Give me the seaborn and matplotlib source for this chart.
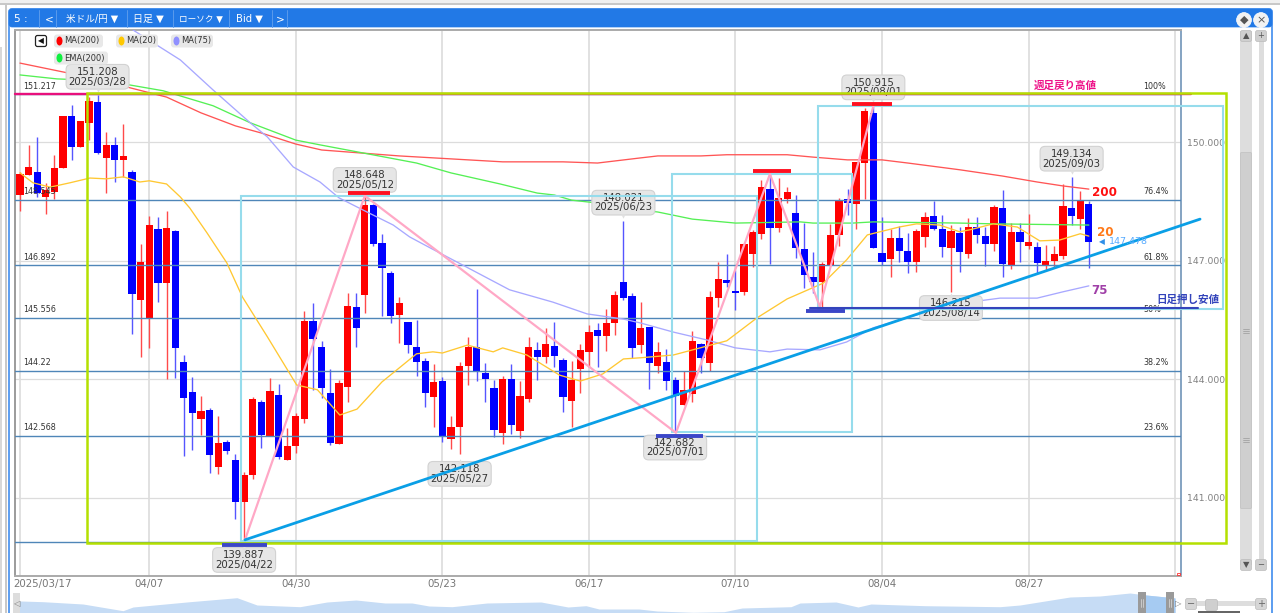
import numpy as np
import pandas as pd
import matplotlib
matplotlib.use('Agg')
import matplotlib.pyplot as plt
import matplotlib.transforms as mtrans
from matplotlib.patches import Rectangle, FancyBboxPatch, Circle, Ellipse
import seaborn as sns

# daily candles, USD/JPY 2025/03/17 onwards
opens = [148.67,149.18,149.25,148.62,148.75,149.36,150.67,149.89,150.50,151.03,
         149.61,149.94,149.56,149.25,146.01,145.53,147.81,146.44,147.76,144.44,
         143.68,143.00,143.23,141.79,142.42,141.96,140.90,141.58,143.43,142.57,
         143.61,141.96,142.32,143.00,145.48,144.82,143.66,142.37,143.81,145.84,
         146.14,148.42,147.46,146.70,145.63,145.46,144.82,144.47,143.56,143.96,
         142.50,142.80,144.34,144.82,144.17,143.79,142.65,144.01,142.70,143.51,
         144.75,144.57,144.85,144.49,143.46,144.27,144.70,145.25,145.10,145.43,
         146.47,146.12,144.87,145.33,144.34,144.44,143.99,143.36,143.63,144.90,
         144.42,146.06,146.52,146.24,146.22,147.18,147.69,148.82,147.84,148.57,
         148.22,147.31,146.60,146.47,146.90,147.66,148.57,148.44,149.48,150.75,
         147.20,147.05,147.58,147.25,146.98,147.61,148.14,147.81,147.33,147.71,
         147.18,147.86,147.63,147.43,148.34,146.87,147.74,147.38,147.36,146.90,
         147.00,147.13,148.34,148.06,148.44]
highs = [149.25,149.94,150.14,148.98,149.69,150.67,150.95,150.55,151.15,151.21,
         150.27,150.14,150.47,149.31,147.43,148.14,148.11,148.27,147.79,144.62,
         144.06,143.58,143.28,143.08,142.47,142.11,141.66,143.56,143.48,144.04,
         143.89,142.77,143.15,145.74,145.94,144.98,144.27,143.99,146.19,146.19,
         148.65,148.44,147.69,146.75,146.09,145.46,145.51,144.55,144.39,144.06,
         143.08,144.44,145.08,146.29,144.42,143.99,144.09,144.39,143.96,145.08,
         144.95,145.31,145.46,144.55,144.47,144.90,145.38,145.43,145.79,146.24,
         148.02,146.19,145.96,145.33,144.95,144.77,144.06,144.22,145.23,144.93,
         146.24,146.98,147.18,146.77,147.46,147.79,149.05,149.23,149.10,148.87,
         148.67,147.96,147.23,146.98,147.94,148.60,148.82,149.51,150.87,150.92,
         148.11,147.81,147.89,147.71,147.81,148.24,148.52,148.17,147.91,147.86,
         148.09,148.11,147.86,148.42,148.80,147.96,147.96,148.19,147.48,147.41,
         147.38,148.95,149.13,148.77,148.52]
lows = [148.27,149.18,148.62,148.19,148.57,149.36,149.56,149.89,150.06,149.71,
        148.72,149.00,149.13,145.15,144.57,144.80,145.96,144.01,144.04,142.06,
        142.22,142.60,141.63,141.61,142.11,140.47,139.89,141.48,142.27,142.57,
        141.99,141.96,142.14,142.90,143.74,143.53,142.34,142.37,143.43,144.82,
        145.69,147.38,145.61,145.43,144.93,144.67,144.09,143.30,142.80,142.42,
        142.24,142.12,143.86,143.96,143.43,142.55,142.37,142.62,142.52,143.43,
        143.99,144.42,144.32,143.18,142.80,143.66,144.32,144.32,144.72,145.13,
        146.01,144.55,144.67,143.76,144.17,143.74,142.68,143.36,143.43,144.17,
        144.22,145.84,146.34,145.76,146.14,146.85,147.56,146.93,147.74,148.47,
        147.08,146.32,146.19,145.84,146.87,147.38,148.17,147.81,148.57,147.33,
        146.90,146.60,146.98,146.70,146.72,147.36,147.79,147.10,146.22,146.72,
        147.08,147.46,146.87,147.25,146.60,146.80,146.98,147.31,146.70,146.77,
        146.85,147.05,147.91,147.81,146.82]
closes = [149.20,149.38,148.72,148.80,149.36,150.67,149.89,150.55,151.05,149.74,
          149.94,149.56,149.66,146.17,146.98,147.91,146.44,147.84,144.80,143.53,
          143.15,143.20,142.09,142.39,142.19,140.90,141.58,143.51,142.60,143.71,
          142.04,142.32,143.08,145.48,145.03,143.79,142.39,143.91,145.86,145.31,
          148.42,147.43,146.82,145.61,145.94,144.87,144.44,143.66,143.94,142.55,
          142.80,144.34,144.82,144.19,144.01,142.72,144.01,142.85,143.58,144.82,
          144.57,144.90,144.60,143.56,143.99,144.75,145.20,145.10,145.43,146.14,
          146.06,144.80,145.31,144.42,144.70,143.96,143.58,143.74,144.98,144.55,
          146.09,146.55,146.44,146.19,147.43,147.74,148.87,147.84,148.60,148.75,
          147.33,146.65,146.47,146.93,147.66,148.52,148.47,149.51,150.80,147.33,
          146.98,147.58,147.25,146.98,147.76,148.11,147.81,147.36,147.76,147.23,
          147.86,147.66,147.43,148.37,146.93,147.74,147.48,147.48,146.95,147.00,
          147.18,148.39,148.14,148.52,147.48]

# moving averages, read at the bends
ma200_idx = [0,7.8,17,21,25,28,32,35,44,56,63,67,72,74,79,82,89,92,96,100,103,109,114,118,121,124]
ma200_val = [152.01,151.66,151.15,150.75,150.42,150.24,149.96,149.81,149.66,149.51,149.51,149.48,
             149.61,149.66,149.66,149.69,149.69,149.63,149.56,149.56,149.48,149.31,149.15,149.00,148.90,148.82]
ema200_idx = [0,4.3,10,16.6,22.4,26.7,32,34.8,46,50,55.7,60,62,64,71,72,74,78,83,90.5,92,96.6,99,109,113,124]
ema200_val = [151.71,151.61,151.56,151.31,150.93,150.50,150.06,149.94,149.48,149.23,148.95,148.72,
              148.67,148.54,148.37,148.29,148.24,148.06,147.96,147.99,147.96,147.96,147.99,147.96,147.94,147.91]
ma75_idx = [13.1,18.6,22.4,26.7,28.7,31.7,34.8,37,39.8,43.3,45.2,47.6,56.8,61.8,65.8,70,72,75.8,79.7,
            83,87,89,92.8,95.9,99,102.9,106.7,110.2,113.7,118,121,124]
ma75_val = [152.85,152.09,151.33,150.50,150.14,149.38,149.00,148.60,148.29,147.91,147.61,147.33,146.27,
            145.96,145.66,145.53,145.43,145.20,145.00,144.80,144.70,144.77,144.75,144.95,145.31,145.56,
            145.81,145.96,146.06,146.06,146.22,146.37]
ma20_idx = [0,1.5,3.5,5.8,8.1,10,12,13.9,15,17,18.6,19.7,21.7,24,25.8,28.7,32.1,34.5,37.1,39.1,42,43.7,
            46,47.9,49,51.9,54.9,56,58.8,62.6,65,67.6,70,72,75.8,78.9,82,85.5,89,93.2,95.9,98.3,102,104,
            106.7,109,110.2,112.9,115.7,118.3,120.6,123,124]
ma20_val = [149.23,148.98,148.87,148.98,149.10,149.08,149.13,149.00,149.03,148.95,148.62,148.34,147.71,
            146.95,146.09,145.08,143.86,143.74,143.10,143.25,143.94,144.24,144.65,144.70,144.67,144.87,
            144.70,144.80,144.62,144.11,143.96,144.14,144.52,144.55,144.62,144.80,144.98,145.56,146.04,
            146.44,147.03,147.66,147.86,147.94,147.91,147.74,147.79,147.94,147.86,147.51,147.53,147.69,147.63]

# fibonacci levels
fib_levels = [151.217,148.545,146.892,145.556,144.22,142.568,139.887]
fib_names = ['151.217','148.545','146.892','145.556','144.22','142.568','']
fib_pcts = ['100%','76.4%','61.8%','50%','38.2%','23.6%','']

# drawn objects
zigzag_idx = [26.1,40,76.1,87,92.8,99]
zigzag_val = [139.94,148.65,142.65,149.2,145.84,150.92]
trend_idx = [26.1,136.9]
trend_val = [139.94,148.06]
box_left = [25.6,75.6,92.6]
box_right = [85.5,96.5,139.6]
box_low = [139.91,142.67,145.79]
box_high = [148.65,149.2,150.93]
frame_left, frame_right, frame_low, frame_high = 7.8,139.9,139.86,151.25
week_high_price = 151.217
day_low_price = 145.80

# callouts: bar, price, text, offset in pixels
call_idx = [9,40,70,51,26,76,99,108,122]
call_val = [151.208,148.648,148.021,142.118,139.887,142.682,150.915,146.215,149.134]
call_txt = ['151.208\n2025/03/28','148.648\n2025/05/12','148.021\n2025/06/23','142.118\n2025/05/27',
            '139.887\n2025/04/22','142.682\n2025/07/01','150.915\n2025/08/01','146.215\n2025/08/14',
            '149.134\n2025/09/03']
call_off = [18,16,18,-20,-18,-16,19,-16,18]

# peak / trough bars
red_bar_left, red_bar_right, red_bar_val = [38.0,85,96.5], [42.9,89.5,101.2], [148.72,149.28,150.97]
blue_bar_left, blue_bar_right, blue_bar_val = [23.4,73.8,91.2], [28.6,79.2,95.7], [139.81,142.57,145.74]

# axes labels
tick_idx = [0,15,32,49,66,83,100,117]
tick_txt = ['2025/03/17','04/07','04/30','05/23','06/17','07/10','08/04','08/27']
price_ticks = [150,147,144,141]
price_txt = ['150.000','147.000','144.000','141.000']

# overview strip along the bottom
mini_pos = [0,8,30,70,110,120,177,224,244,287,314,343,372,399,416,439,474,528,555,573,586,626,644,680,711,
            729,778,787,823,845,858,912,987,1007,1057,1087,1117,1133,1153,1162]
mini_h = [12,12,11.3,9,2.3,6,11.3,15.3,8,6.3,11,13,10,10,7,6.3,10,11,6,7.3,4,4,2,0.7,1.3,
          5,6.3,10,11,6,9,7.3,6.3,8,16,17,20,18,16,15]

sns.set_theme(style='white')
plt.rcParams['font.family'] = ['DejaVu Sans', 'Noto Sans CJK JP']

df = pd.DataFrame({'open': opens, 'high': highs, 'low': lows, 'close': closes})
df['idx'] = np.arange(len(df))
df['up'] = df['close'] >= df['open']

fig = plt.figure(figsize=(12.8, 6.13), dpi=100, facecolor='white')

# window furniture, in screen pixels
ui = fig.add_axes([0, 0, 1, 1], zorder=0)
ui.set_xlim(0, 1280)
ui.set_ylim(613, 0)
ui.axis('off')
ui.add_patch(Rectangle((0, 0), 1280, 4, fc='#f0f0f0', ec='none'))
ui.add_patch(Rectangle((0, 3), 1280, 2, fc='#c8c8c8', ec='none'))
ui.add_patch(Rectangle((0, 47), 2, 566, fc='#d8d8d8', ec='none'))
ui.add_patch(Rectangle((5, 5), 2, 608, fc='#c8c8c8', ec='none'))
ui.add_patch(FancyBboxPatch((11, 11), 1259, 620, boxstyle='round,pad=2,rounding_size=3', fc='white', ec='#5b9df0', lw=1.4))
ui.add_patch(FancyBboxPatch((11, 11), 1259, 14, boxstyle='round,pad=2,rounding_size=3', fc='#2279e6', ec='#2279e6', lw=0.5))
for sep in [39, 56, 127, 173, 229, 272, 287]:
    ui.plot([sep, sep], [10, 27], color='#5a9bec', lw=0.7)
tabs = [(14, '5 :', 7.6), (45, '<', 7.6), (66, '米ドル/円 ▼', 6.9), (133, '日足 ▼', 7.2), (179, 'ローソク ▼', 6.2), (236, 'Bid ▼', 7.2), (276, '>', 7.6)]
for tx, lab, fs in tabs:
    ui.text(tx, 19, lab, color='white', fontsize=fs, va='center', ha='left')
for cx, glyph in [(1244, '◆'), (1261, '×')]:
    ui.add_patch(Circle((cx, 20), 7.4, fc='#f2f2f2', ec='white', lw=0.5))
    ui.text(cx, 20, glyph, fontsize=8, color='#555555', ha='center', va='center')

# scrollbars on the right
ui.add_patch(Rectangle((1240, 31), 12, 534, fc='#dddddd', ec='none'))
ui.add_patch(Rectangle((1259, 31), 5, 534, fc='#dddddd', ec='none'))
ui.add_patch(FancyBboxPatch((1241, 153), 10, 355, boxstyle='round,pad=0.5,rounding_size=1', fc='#cfcfcf', ec='#c0c0c0', lw=0.5))
for gy in [331, 440]:
    for k in [-2, 0, 2]:
        ui.plot([1243, 1249], [gy + k, gy + k], color='#999999', lw=0.5)
for by, glyph_a, glyph_b in [(36, '▲', '+'), (565, '▼', '−')]:
    for cx, glyph in [(1246, glyph_a), (1261, glyph_b)]:
        ui.add_patch(FancyBboxPatch((cx - 5, by - 5), 10, 10, boxstyle='round,pad=0.5,rounding_size=2', fc='#cfcfcf', ec='#bbbbbb', lw=0.5))
        ui.text(cx, by, glyph, fontsize=6, color='#555555', ha='center', va='center')

# zoom slider next to the overview strip
ui.add_patch(Rectangle((1192, 601), 70, 5, fc='#dddddd', ec='none'))
for cx, glyph in [(1191, '−'), (1261, '+')]:
    ui.add_patch(FancyBboxPatch((cx - 5, 599), 10, 10, boxstyle='round,pad=0.5,rounding_size=2', fc='#d6d6d6', ec='#bbbbbb', lw=0.5))
    ui.text(cx, 604, glyph, fontsize=7, color='#666666', ha='center', va='center')
ui.add_patch(FancyBboxPatch((1206, 600), 11, 10, boxstyle='round,pad=0.5,rounding_size=2', fc='#cfcfcf', ec='#bbbbbb', lw=0.5))
ui.add_patch(Rectangle((1198, 611), 42, 2, fc='#666666', ec='none'))

# main chart
ax = fig.add_axes([15 / 1280, 1 - 576 / 613, (1181 - 15) / 1280, (576 - 30) / 613], zorder=1)
ax.patch.set_alpha(0)
ax.set_xlim(-0.58, 134.69)
ax.set_ylim(139.025, 152.848)
for x in tick_idx + [134]:
    ax.axvline(x, color='#dedede', lw=1.3, zorder=1)
for y in price_ticks:
    ax.axhline(y, color='#dcdcdc', lw=0.9, zorder=1)

wick_colors = np.where(df['up'], '#ff4a4a', '#5555ff')
body_colors = np.where(df['up'], '#ff0000', '#0000ff')
ax.vlines(df['idx'], df['low'], df['high'], colors=wick_colors, lw=1.0, zorder=3)
ax.bar(df['idx'], (df['close'] - df['open']).abs(), bottom=df[['open', 'close']].min(axis=1),
       width=0.84, color=body_colors, lw=0, zorder=3.2)

for lvl, name, pct in zip(fib_levels, fib_names, fib_pcts):
    ax.axhline(lvl, color='#4f86b8', lw=1.0, zorder=3.5)
    if name:
        ax.annotate(name, xy=(0.35, lvl), xytext=(0, 5.8), textcoords='offset points',
                    fontsize=5.8, color='#333333', va='center', zorder=8)
        ax.annotate(pct, xy=(130.3, lvl), xytext=(0, 5.8), textcoords='offset points',
                    fontsize=5.8, color='#333333', va='center', zorder=4)

ma_lines = [(ma200_idx, ma200_val, '#ff5555'), (ema200_idx, ema200_val, '#55f055'),
            (ma75_idx, ma75_val, '#a8a8ff'), (ma20_idx, ma20_val, '#ffc832')]
for xs, ys, col in ma_lines:
    sns.lineplot(x=xs, y=ys, ax=ax, color=col, lw=0.95, estimator=None, sort=False, legend=False, zorder=4)

for i, v, txt, off in zip(call_idx, call_val, call_txt, call_off):
    ax.annotate(txt, xy=(i, v), xytext=(0, off * 0.72), textcoords='offset points', ha='center', va='center',
                fontsize=7.3, color='#333333', linespacing=0.95, zorder=5,
                bbox=dict(boxstyle='round,pad=0.25,rounding_size=0.5', fc='#e6e6e6', ec='#d2d2d2', lw=0.8))
    # small pointer under or over the callout
    sgn = 1 if off > 0 else -1
    shift = mtrans.offset_copy(ax.transData, fig=fig, x=0, y=sgn * (abs(off) - 13) * 0.72, units='points')
    ax.plot([i], [v], marker='v' if off > 0 else '^', ms=3.2, color='#e0e0e0', mew=0, transform=shift, zorder=5)

# cyan boxes and the big green frame
for l, r, b, t in zip(box_left, box_right, box_low, box_high):
    ax.add_patch(Rectangle((l, b), r - l, t - b, fill=False, ec='#96dcec', lw=1.5, clip_on=False, zorder=5.5))
ax.plot([-0.58, 135.9], [week_high_price, week_high_price], color='#e8107c', lw=1.7, clip_on=False, zorder=6)
ax.add_patch(Rectangle((frame_left, frame_low), frame_right - frame_left, frame_high - frame_low,
                       fill=False, ec='#b4e000', lw=1.8, clip_on=False, zorder=6.1))
ax.plot(zigzag_idx, zigzag_val, color='#ffa8c6', lw=1.6, zorder=6.2)
ax.plot(trend_idx, trend_val, color='#0a9fe6', lw=2, clip_on=False, zorder=6.3)
ax.plot([91.6, 136.7], [day_low_price, day_low_price], color='#3344bb', lw=1.5, clip_on=False, zorder=6.3)
ax.hlines(red_bar_val, red_bar_left, red_bar_right, color='#ff1020', lw=2.8, zorder=6.4)
ax.hlines(blue_bar_val, blue_bar_left, blue_bar_right, color='#3b46c8', lw=2.8, zorder=6.4)

sns.despine(ax=ax, top=False, right=False)
for side, col, w in [('left', '#8a8a8a', 1.2), ('bottom', '#aaaaaa', 1.4), ('top', '#aaaaaa', 1.4), ('right', '#6f93b8', 1.2)]:
    ax.spines[side].set_color(col)
    ax.spines[side].set_linewidth(w)

ax.set_xticks(tick_idx)
ax.set_xticklabels(tick_txt, fontsize=7.4, color='#777777')
ax.yaxis.tick_right()
ax.set_yticks(price_ticks)
ax.set_yticklabels(price_txt, fontsize=6.7, color='#808080')
ax.tick_params(axis='both', length=0)
ax.tick_params(axis='x', pad=2.5)
ax.tick_params(axis='y', pad=4)
first = ax.get_xticklabels()[0]
first.set_ha('left')
first.set_transform(first.get_transform() + mtrans.ScaledTranslation(-7 / 100, 0, fig.dpi_scale_trans))

# labels placed on screen position
def label(x, y, s, **kw):
    ax.text(x, y, s, transform=ui.transData, clip_on=False, zorder=9, va='center', **kw)

label(1034, 86, '週足戻り高値', color='#ee1088', fontsize=7.6, fontweight='bold')
label(1156, 300, '日足押し安値', color='#3344bb', fontsize=7.6, fontweight='bold')
label(1092, 192, '200', color='#ff1010', fontsize=8.6, fontweight='bold')
label(1097, 233, '20', color='#ff7a1a', fontsize=8.6, fontweight='bold')
label(1091, 290, '75', color='#a040a8', fontsize=8.6, fontweight='bold')
label(1099, 242, '◀', color='#2f8fe8', fontsize=5.5)
label(1109, 242, '147.478', color='#55aaff', fontsize=6.8)

# legend chips
ax.add_patch(FancyBboxPatch((36, 36), 10, 10, transform=ui.transData, boxstyle='round,pad=0.5,rounding_size=2',
                            fc='white', ec='#222222', lw=0.9, clip_on=False, zorder=9))
label(41, 41, '◀', color='#111111', fontsize=5.5, ha='center')
chips = [(54, 103, 41, '#ff0000', 'MA(200)'), (116, 158, 41, '#ffc800', 'MA(20)'),
         (171, 213, 41, '#9090ff', 'MA(75)'), (54, 108, 58, '#10f040', 'EMA(200)')]
for x0, x1, cy, col, lab in chips:
    ax.add_patch(FancyBboxPatch((x0 + 1, cy - 5.5), x1 - x0 - 2, 11, transform=ui.transData,
                                boxstyle='round,pad=1,rounding_size=3', fc='#e8e8e8', ec='none', clip_on=False, zorder=8.5))
    ax.add_patch(Ellipse((x0 + 5.5, cy), 6, 9, transform=ui.transData, fc=col, ec='none', clip_on=False, zorder=9))
    label(x0 + 10.5, cy, lab, color='#333333', fontsize=6)
# tiny red corner mark of the chart
ax.add_patch(Rectangle((1177, 573), 3, 2, transform=ui.transData, fc='none', ec='#ff3030', lw=0.6, clip_on=False, zorder=9))

# overview strip
mini = fig.add_axes([13 / 1280, 0, 1162 / 1280, 23 / 613], zorder=1)
mini.set_xlim(0, 1162)
mini.set_ylim(0, 23)
mini.axis('off')
mini.fill_between(mini_pos, 0, mini_h, color='#c6dcf5', lw=0)
sel = [i for i, p in enumerate(mini_pos) if p >= 1133]
mini.fill_between([1129] + [mini_pos[i] for i in sel], 0, [19] + [mini_h[i] for i in sel], color='#a6cbf2', lw=0)
for hx in [1129, 1156.5]:
    mini.add_patch(Rectangle((hx - 4, 0), 8, 21, fc='#9a9a9a', ec='none'))
    mini.plot([hx - 1, hx - 1], [6, 14], color='#dddddd', lw=0.5)
    mini.plot([hx + 1, hx + 1], [6, 14], color='#dddddd', lw=0.5)
mini.text(1165, 9, '▷', fontsize=6, color='#777777', ha='center', va='center', clip_on=False)
mini.add_patch(Rectangle((0, 0), 7, 20, fc='#dddddd', ec='none'))
mini.text(3, 9, '◁', fontsize=6, color='#777777', ha='center', va='center')

fig.savefig('out.png', dpi=100)
